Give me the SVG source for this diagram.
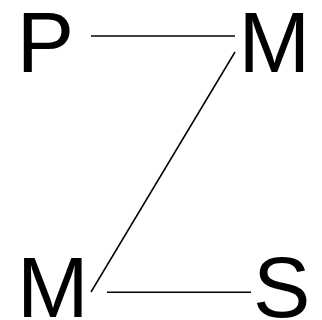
<svg xmlns="http://www.w3.org/2000/svg" width="322" height="320" viewBox="0 0 322 320">
<style>
.lbl{font-family:"Liberation Sans",Arial,sans-serif;font-size:86px;fill:#000}
.edge{stroke:#000;stroke-width:1.5;fill:none}
</style>
<rect width="322" height="320" fill="#fff"/>
<g id="connectors">
<line class="edge" x1="91" y1="36" x2="235" y2="36"/>
<line class="edge" x1="235" y1="52" x2="91" y2="292"/>
<line class="edge" x1="107" y1="292.3" x2="251" y2="292.3"/>
</g>
<g id="node-P"><text class="lbl" x="16.7" y="71.7">P</text></g>
<g id="node-M1"><text class="lbl" x="238.6" y="71.7">M</text></g>
<g id="node-M2"><text class="lbl" x="17" y="317.3">M</text></g>
<g id="node-S"><text class="lbl" x="253" y="317.3">S</text></g>
</svg>
